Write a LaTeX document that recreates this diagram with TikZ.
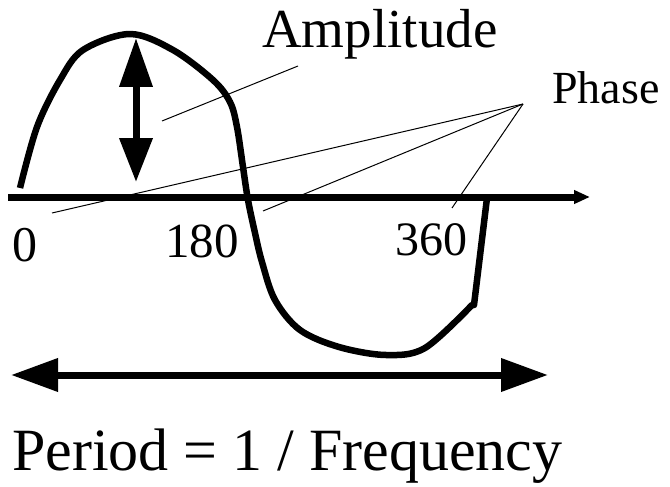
\documentclass[tikz,border=0pt]{standalone}
\usepackage{fontspec}
\setmainfont{Liberation Serif}
\usetikzlibrary{arrows.meta}
\begin{document}
\begin{tikzpicture}[x=1pt,y=-1pt,
  lbl/.style={inner sep=0pt,anchor=base west},
  thick7/.style={line width=7pt},
  leader/.style={line width=1pt},
  bigtip/.style={-{Triangle[length=47pt,width=32pt]}},
  twotip/.style={{Triangle[length=47pt,width=32pt]}-{Triangle[length=47pt,width=32pt]}}]
\useasboundingbox (0,0) rectangle (670,487);
% labels
\node[lbl,font=\fontsize{55}{60}\selectfont] (amp) at (262,48) {Amplitude};
\node[lbl,font=\fontsize{46}{50}\selectfont] (phase) at (552,103) {Phase};
\node[lbl,font=\fontsize{50}{54}\selectfont] (l0) at (12,261) {0};
\node[lbl,font=\fontsize{49}{54}\selectfont] (l180) at (165,257) {180};
\node[lbl,font=\fontsize{48}{54}\selectfont] (l360) at (395,255) {360};
\node[lbl,font=\fontsize{60}{66}\selectfont] (period) at (12,470) {Period = 1 / Frequency};
% leader lines
\coordinate (ampA) at (298,66);
\coordinate (ampB) at (162,121);
\coordinate (ph) at (523,104);
\coordinate (p1) at (52,213);
\coordinate (p2) at (263,211);
\coordinate (p3) at (452,208);
\draw[leader] (ampA) -- (ampB);
\draw[leader] (ph) -- (p1);
\draw[leader] (ph) -- (p2);
\draw[leader] (ph) -- (p3);
% axis
\coordinate (ax0) at (8,197);
\coordinate (ax1) at (590,197);
\draw[thick7,-{Triangle[length=16pt,width=13pt]}] (ax0) -- (ax1);
% wave
\draw[line width=6.5pt,line join=round] plot[smooth,tension=0.55] coordinates {
 (20,188) (37,127) (60,80) (83,50) (130,34) (173,50) (213,80) (230,102)
 (237,127) (243,167) (248,200) (255,233) (262,262) (275,300) (300,330)
 (339,347) (386,355) (425,348) (472,305)} -- (474,305) -- (487,198);
% amplitude arrow
\coordinate (at) at (136,38);
\coordinate (ab) at (136,182);
\draw[thick7,{Triangle[length=49pt,width=32pt]}-{Triangle[length=44pt,width=32pt]}] (at) -- (ab);
% period arrow
\coordinate (pl) at (11,375);
\coordinate (pr) at (548,375);
\draw[thick7,twotip] (pl) -- (pr);
\end{tikzpicture}
\end{document}
